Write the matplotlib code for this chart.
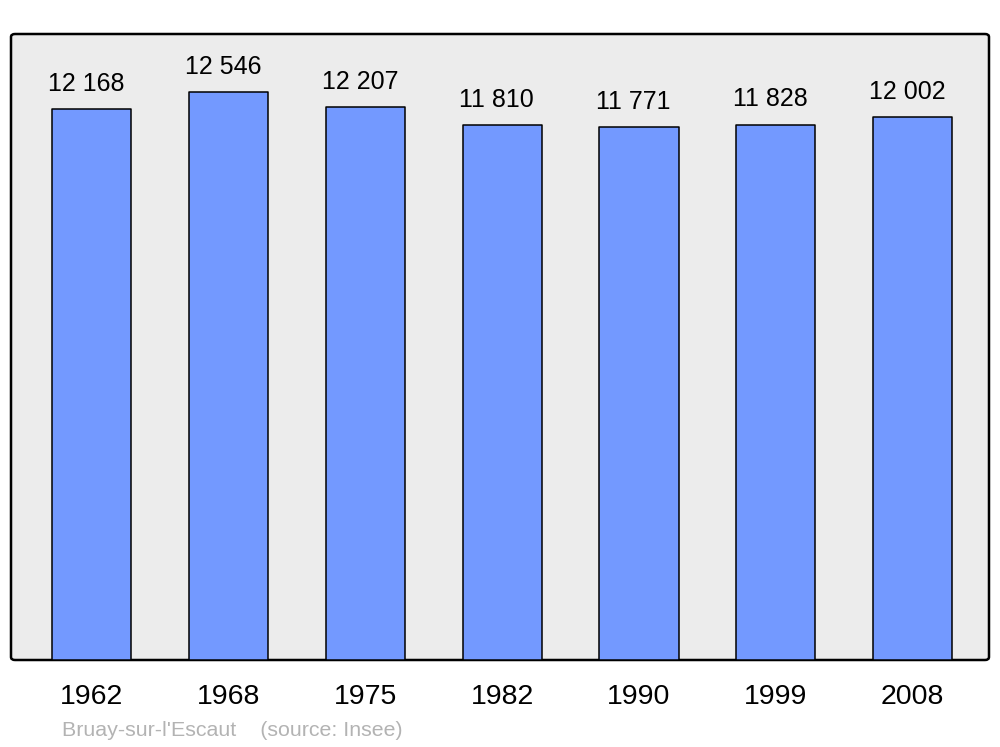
import matplotlib
matplotlib.use('Agg')
import matplotlib.pyplot as plt
from matplotlib.patches import FancyBboxPatch

years = ['1962', '1968', '1975', '1982', '1990', '1999', '2008']
population = [12168, 12546, 12207, 11810, 11771, 11828, 12002]
value_labels = ['12 168', '12 546', '12 207', '11 810', '11 771', '11 828', '12 002']
caption = "Bruay-sur-l'Escaut    (source: Insee)"

plt.rcParams['font.family'] = ['Liberation Sans', 'DejaVu Sans']

W, H = 1000, 747
fig = plt.figure(figsize=(W / 100, H / 100), dpi=100)

# grey panel behind the bars
left, right, top, bottom = 11, 989, 34, 660
panel = FancyBboxPatch((left / W, 1 - bottom / H), (right - left) / W, (bottom - top) / H,
                       boxstyle='round,pad=0,rounding_size=0.004',
                       transform=fig.transFigure, facecolor='#ececec',
                       edgecolor='black', linewidth=1.8, zorder=-5)
fig.patches.append(panel)

ax = fig.add_axes([left / W, 1 - bottom / H, (right - left) / W, (bottom - top) / H])
ax.set_zorder(1)
ax.patch.set_visible(False)
for s in ax.spines.values():
    s.set_visible(False)

x = list(range(len(years)))
ax.bar(x, population, width=0.578, color='#7399ff', edgecolor='black',
       linewidth=1.1, joinstyle='round', zorder=2)

for xi, v, lab in zip(x, population, value_labels):
    ax.annotate(lab, (xi, v), xytext=(-4, 13), textcoords='offset points',
                ha='center', va='baseline', fontsize=18)

ax.set_xlim(-0.592, 6.559)
ax.set_ylim(0, 626 * 12546 / 568)
ax.set_yticks([])
ax.set_xticks(x)
ax.set_xticklabels(years, fontsize=20.5)
ax.tick_params(axis='x', length=0, pad=17.5)

fig.text(62 / W, 1 - 730 / H, caption, fontsize=15.4, color='#b3b3b3', va='center', ha='left')

fig.savefig('out.png', dpi=100)
